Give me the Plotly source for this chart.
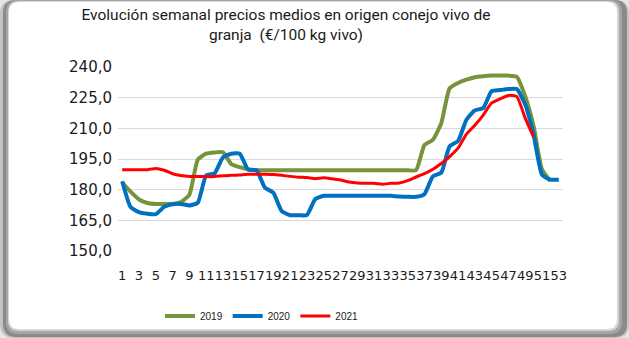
import plotly.graph_objects as go

# Weekly average farm-gate prices, live rabbit (EUR/100 kg live weight)
weeks_2019 = list(range(1, 53))
precios_2019 = [
    183.5, 179.0, 175.2, 173.5, 173.0, 173.0, 173.0, 174.0, 177.5, 194.7,
    197.6, 198.2, 198.3, 192.5, 191.0, 190.0, 189.5, 189.5, 189.5, 189.5,
    189.5, 189.5, 189.5, 189.5, 189.5, 189.5, 189.5, 189.5, 189.5, 189.5,
    189.5, 189.5, 189.5, 189.5, 189.5, 189.5, 201.8, 204.4, 212.5, 229.6,
    232.2, 233.8, 235.0, 235.5, 235.8, 235.8, 235.8, 235.2, 225.6, 211.0,
    189.8, 184.2,
]

weeks_2020 = list(range(1, 54))
precios_2020 = [
    184.1, 171.5, 169.0, 168.2, 168.0, 171.6, 172.9, 173.0, 172.3, 173.6,
    187.0, 188.0, 195.8, 197.6, 197.6, 189.8, 189.5, 181.0, 178.5, 169.5,
    167.5, 167.5, 167.6, 175.4, 177.0, 177.0, 177.0, 177.0, 177.0, 177.0,
    177.0, 177.0, 177.0, 176.6, 176.5, 176.5, 177.8, 186.5, 188.3, 201.2,
    203.8, 214.2, 218.8, 219.9, 228.2, 228.7, 229.2, 229.2, 221.6, 206.9,
    187.3, 184.9, 184.9,
]

weeks_2021 = list(range(1, 51))
precios_2021 = [
    189.8, 189.8, 189.8, 189.8, 190.4, 189.5, 187.8, 186.9, 186.5, 186.5,
    186.4, 186.4, 186.8, 187.0, 187.2, 187.5, 187.5, 187.5, 187.4, 187.0,
    186.5, 186.1, 185.9, 185.4, 185.8, 185.3, 184.7, 183.7, 183.2, 183.1,
    183.1, 182.7, 183.1, 183.3, 184.4, 186.2, 187.8, 190.0, 192.8, 196.2,
    200.3, 207.2, 211.5, 216.5, 222.4, 224.4, 226.1, 225.5, 215.0, 205.7,
]

series = [
    ("2019", weeks_2019, precios_2019, "#77933C", 4),
    ("2020", weeks_2020, precios_2020, "#0070C0", 4),
    ("2021", weeks_2021, precios_2021, "#FF0000", 3),
]

x_ticks = list(range(1, 54, 2))
y_ticks = [150, 165, 180, 195, 210, 225, 240]

W, H = 629, 338
ML, MR, MT, MB = 118, 66, 67, 87
PW, PH = W - ML - MR, H - MT - MB


def X(px):
    return (px - ML) / PW


def Y(py):
    return (H - MB - py) / PH


def rounded(x0, y0, x1, y1, r):
    return (
        f"M {X(x0 + r)},{Y(y0)} L {X(x1 - r)},{Y(y0)} "
        f"Q {X(x1)},{Y(y0)} {X(x1)},{Y(y0 + r)} L {X(x1)},{Y(y1 - r)} "
        f"Q {X(x1)},{Y(y1)} {X(x1 - r)},{Y(y1)} L {X(x0 + r)},{Y(y1)} "
        f"Q {X(x0)},{Y(y1)} {X(x0)},{Y(y1 - r)} L {X(x0)},{Y(y0 + r)} "
        f"Q {X(x0)},{Y(y0)} {X(x0 + r)},{Y(y0)} Z"
    )


fig = go.Figure()
for name, wk, vals, color, width in series:
    fig.add_trace(go.Scatter(
        x=wk, y=vals, name=name, mode="lines",
        line=dict(color=color, width=width, shape="spline", smoothing=0.5),
    ))

# Framed panel with a soft grey bevel around it
frame = [
    (0, 0, 629, 338, 0, "#e6e6e6"),
    (0, 0, 629, 338, 14, "#c4c4c4"),
    (3, 0, 627, 337, 13, "#8a8a8a"),
    (6, 0, 622, 334, 12, "#a6a6a6"),
    (8, 1, 619, 331, 11, "#d6d6d6"),
    (9, 2, 617, 329, 10, "#ffffff"),
]
shapes = []
for x0, y0, x1, y1, r, col in frame:
    shapes.append(dict(
        type="path", xref="paper", yref="paper", layer="below",
        path=rounded(x0, y0, x1, y1, r) if r else
        f"M {X(x0)},{Y(y0)} L {X(x1)},{Y(y0)} L {X(x1)},{Y(y1)} L {X(x0)},{Y(y1)} Z",
        fillcolor=col, line=dict(width=0),
    ))

fig.update_layout(
    width=W, height=H,
    margin=dict(l=ML, r=MR, t=MT, b=MB, autoexpand=False),
    paper_bgcolor="white",
    plot_bgcolor="rgba(0,0,0,0)",
    separators=",.",
    shapes=shapes,
    title=dict(
        text="Evolución semanal precios medios en origen conejo vivo de<br>granja  (€/100 kg vivo)",
        xref="container", yref="container", x=286 / W, xanchor="center",
        y=1 - 20 / H, yanchor="top",
        font=dict(family="Roboto, sans-serif", size=15.5, color="#1a1a1a"),
    ),
    xaxis=dict(
        range=[0.5, 53.5], tickmode="array", tickvals=x_ticks,
        ticktext=[str(t) for t in x_ticks], tickangle=0,
        showgrid=False, zeroline=False, showline=False, ticks="",
        ticklabelstandoff=15, automargin=False,
        tickfont=dict(family="DejaVu Sans", size=13, color="#1a1a1a"),
    ),
    yaxis=dict(
        range=[150, 240], tickmode="array", tickvals=y_ticks, tickformat=".1f",
        showgrid=True, gridcolor="#d9d9d9", gridwidth=1,
        zeroline=False, showline=False, ticks="", ticklabelstandoff=5,
        automargin=False,
        tickfont=dict(family="DejaVu Sans", size=15, color="#1a1a1a"),
    ),
    legend=dict(
        orientation="h", x=(262 - ML) / PW, xanchor="center",
        y=Y(316), yanchor="middle", bgcolor="rgba(0,0,0,0)",
        font=dict(family="Liberation Sans, Arial, sans-serif", size=10, color="#1a1a1a"),
        itemwidth=30, tracegroupgap=0,
    ),
    showlegend=True,
)

fig.write_html("out.html")
